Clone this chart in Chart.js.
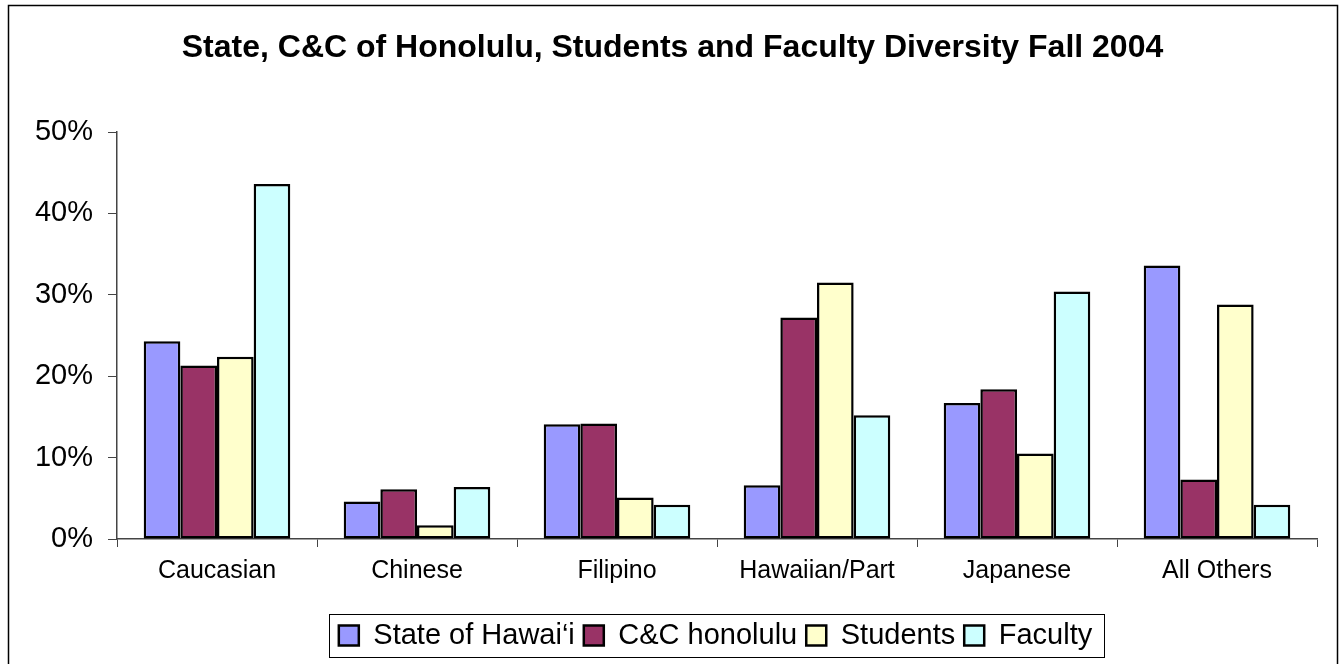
<!DOCTYPE html>
<html>
<head>
<meta charset="utf-8">
<script src="https://cdn.jsdelivr.net/npm/chart.js@4.4.0/dist/chart.umd.min.js"></script>
<style>
  body { margin: 0; background: #fff; }
  #wrap { width: 1343px; height: 664px; }
</style>
</head>
<body>
<div id="wrap"><canvas id="diversityChart" width="1343" height="664"></canvas></div>
<script>
// Categories and series (percent values)
const categories = ['Caucasian', 'Chinese', 'Filipino', 'Hawaiian/Part', 'Japanese', 'All Others'];
const stateHawaii = [24.3, 4.6, 14.1, 6.6, 16.7, 33.6];
const ccHonolulu = [21.3, 6.1, 14.2, 27.2, 18.4, 7.3];
const students = [22.4, 1.7, 5.1, 31.5, 10.5, 28.8];
const faculty = [43.6, 6.4, 4.2, 15.2, 30.4, 4.2];
const yTicks = [0, 10, 20, 30, 40, 50];

const FONT = 'Arial, "Liberation Sans", sans-serif';

// white background + outer frame, and a box round the legend
const framePlugin = {
    id: 'frame',
    beforeDraw(chart) {
        const ctx = chart.ctx;
        ctx.save();
        ctx.fillStyle = '#fff';
        ctx.fillRect(0, 0, chart.width, chart.height);
        ctx.strokeStyle = '#000';
        ctx.lineWidth = 1.5;
        ctx.strokeRect(8.5, 5.5, 1329, 700);
        ctx.restore();
    },
    afterLayout(chart) {
        // legend and title sit a little right of where the layout puts them
        chart.legend.left += 57;
        chart.legend.right += 57;
        chart.titleBlock.left += 14;
        chart.titleBlock.right += 14;
    },
    afterDraw(chart) {
        const boxes = chart.legend.legendHitBoxes;
        if (!boxes || !boxes.length) return;
        const left = Math.min(...boxes.map(b => b.left));
        const right = Math.max(...boxes.map(b => b.left + b.width));
        const mid = boxes[0].top + boxes[0].height / 2;
        const ctx = chart.ctx;
        ctx.save();
        ctx.strokeStyle = '#000';
        ctx.lineWidth = 1;
        ctx.strokeRect(Math.round(left - 10) + 0.5, Math.round(mid - 21.5) + 0.5, Math.round(right - left + 22), 43);
        ctx.restore();
    }
};

const ctx = document.getElementById('diversityChart').getContext('2d');

new Chart(ctx, {
    type: 'bar',
    data: {
        labels: categories,
        datasets: [
            { label: 'State of Hawai\u2018i', data: stateHawaii, backgroundColor: '#9999FF' },
            { label: 'C&C honolulu', data: ccHonolulu, backgroundColor: '#993366' },
            { label: 'Students', data: students, backgroundColor: '#FFFFCC' },
            { label: 'Faculty', data: faculty, backgroundColor: '#CCFFFF' }
        ].map(ds => Object.assign(ds, {
            borderColor: '#000',
            borderWidth: 2.5,
            borderSkipped: false,
            categoryPercentage: 0.733,
            barPercentage: 1
        }))
    },
    options: {
        responsive: false,
        animation: false,
        layout: { padding: { left: 0, right: 26, top: 0, bottom: 4 } },
        plugins: {
            title: {
                display: true,
                text: 'State, C&C of Honolulu, Students and Faculty Diversity Fall 2004',
                color: '#000',
                font: { family: FONT, size: 32, weight: 'bold', lineHeight: 1.2 },
                padding: { top: 29, bottom: 64.6 }
            },
            legend: {
                display: true,
                position: 'bottom',
                labels: {
                    color: '#000',
                    font: { family: FONT, size: 29 },
                    boxWidth: 20,
                    boxHeight: 20,
                    padding: 9
                }
            },
            tooltip: { enabled: false }
        },
        scales: {
            x: {
                grid: { drawOnChartArea: false, drawTicks: true, tickLength: 8, color: '#444', offset: true },
                border: { display: true, color: '#444', width: 1.5 },
                ticks: { color: '#000', font: { family: FONT, size: 25 }, padding: 9, maxRotation: 0, autoSkip: false },
                afterFit(scale) { scale.height = 73; }
            },
            y: {
                min: 0,
                max: 50,
                afterBuildTicks(scale) { scale.ticks = yTicks.map(v => ({ value: v })); },
                grid: { drawOnChartArea: false, drawTicks: true, tickLength: 9, color: '#444' },
                border: { display: true, color: '#444', width: 1.5 },
                ticks: {
                    color: '#000',
                    font: { family: FONT, size: 29 },
                    padding: 15,
                    callback: v => v + '%'
                },
                afterFit(scale) { scale.width = 117; }
            }
        }
    },
    plugins: [framePlugin]
});
</script>
</body>
</html>
